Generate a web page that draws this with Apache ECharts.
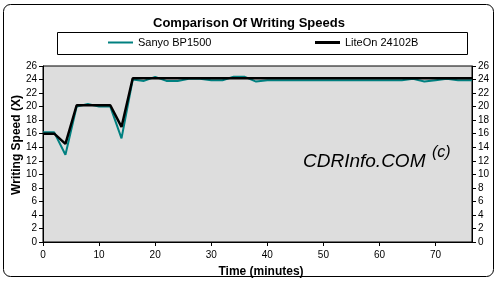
<!DOCTYPE html>
<html><head><meta charset="utf-8">
<script src="https://cdn.jsdelivr.net/npm/echarts@6/dist/echarts.min.js"></script>
<style>html,body{margin:0;padding:0;background:#fff}#c{width:498px;height:289px}</style>
</head><body><div id="c"></div>
<script>
var titleText = 'Comparison Of Writing Speeds';
var xTitle = 'Time (minutes)';
var yTitle = 'Writing Speed (X)';
var seriesNames = ['Sanyo BP1500', 'LiteOn 24102B'];
var sanyoTime  = [0, 2, 4, 6, 8, 10, 12, 14, 16, 18, 20, 22, 24, 26, 28, 30, 32, 34, 36, 38, 40, 42, 44, 46, 48, 50, 52, 54, 56, 58, 60, 62, 64, 66, 68, 70, 72, 74, 76.5];
var sanyoSpeed = [16.2, 16.2, 12.9, 20.0, 20.4, 20.0, 20.0, 15.3, 24.0, 23.8, 24.4, 23.8, 23.8, 24.1, 24.1, 23.9, 23.9, 24.4, 24.4, 23.7, 23.9, 23.9, 23.9, 23.9, 23.9, 23.9, 23.9, 23.9, 23.9, 23.9, 23.9, 23.9, 23.9, 24.1, 23.7, 23.9, 24.1, 23.9, 23.9];
var liteonTime  = [0, 2, 4, 6, 12, 14, 16, 76.5];
var liteonSpeed = [16.0, 16.0, 14.5, 20.2, 20.2, 17.0, 24.2, 24.2];
var xMin = 0, xMax = 76.5, xStep = 10;
var yMin = 0, yMax = 26, yStep = 2;

function zip(a, b) { return a.map(function (v, i) { return [v, b[i]]; }); }

var chart = echarts.init(document.getElementById('c'), null, {renderer: 'canvas'});
var font = 'Arial, "Liberation Sans", sans-serif';
var yAxisBase = {
  type: 'value', min: yMin, max: yMax, interval: yStep,
  axisLine: {show: true, lineStyle: {color: '#000', width: 1}},
  axisTick: {show: true, length: 4, lineStyle: {color: '#000'}},
  axisLabel: {color: '#000', fontSize: 10, fontFamily: font, margin: 6},
  splitLine: {show: false}
};
chart.setOption({
  animation: false,
  backgroundColor: '#fff',
  title: {
    text: titleText, left: 148, top: 12,
    textStyle: {fontSize: 13, fontWeight: 'bold', color: '#000', fontFamily: font}
  },
  legend: [
    {data: [seriesNames[0]], left: 108, top: 37, padding: 0, itemWidth: 25, itemHeight: 2, icon: 'rect',
     textStyle: {fontSize: 11, color: '#000', fontFamily: font}, itemStyle: {color: '#008080'}},
    {data: [seriesNames[1]], left: 315, top: 37, padding: 0, itemWidth: 25, itemHeight: 3, icon: 'rect',
     textStyle: {fontSize: 11, color: '#000', fontFamily: font}, itemStyle: {color: '#000'}}
  ],
  grid: {left: 43, right: 26, top: 66, bottom: 47, show: true, backgroundColor: '#dddddd', borderColor: '#000', borderWidth: 1},
  xAxis: {
    type: 'value', min: xMin, max: xMax, interval: xStep,
    axisLine: {show: true, lineStyle: {color: '#000'}},
    axisTick: {show: true, length: 4, lineStyle: {color: '#000'}},
    axisLabel: {color: '#000', fontSize: 10, fontFamily: font, margin: 8, showMaxLabel: false},
    splitLine: {show: false}
  },
  yAxis: [
    Object.assign({}, yAxisBase, {position: 'left'}),
    Object.assign({}, yAxisBase, {position: 'right'})
  ],
  graphic: [
    {type: 'rect', shape: {x: 3.5, y: 4.5, width: 490, height: 272, r: 7}, style: {fill: 'none', stroke: '#000', lineWidth: 1}, z: -1},
    {type: 'rect', shape: {x: 57.5, y: 32.5, width: 410, height: 22}, style: {fill: 'none', stroke: '#000', lineWidth: 1}},
    {type: 'text', x: 261, y: 272, style: {text: xTitle, fontSize: 12, fontWeight: 'bold', fontFamily: font, fill: '#000', align: 'center', verticalAlign: 'middle'}},
    {type: 'text', x: 17, y: 145, rotation: Math.PI / 2, style: {text: yTitle, fontSize: 12, fontWeight: 'bold', fontFamily: font, fill: '#000', align: 'center', verticalAlign: 'middle'}},
    {type: 'text', x: 303, y: 171, z: 1, style: {text: 'CDRInfo.COM', fontSize: 19, fontStyle: 'italic', fontFamily: font, fill: '#000', align: 'left', verticalAlign: 'bottom'}},
    {type: 'text', x: 432, y: 145, z: 1, style: {text: '(c)', fontSize: 16, fontStyle: 'italic', fontFamily: font, fill: '#000', align: 'left', verticalAlign: 'top'}}
  ],
  series: [
    {name: seriesNames[0], type: 'line', data: zip(sanyoTime, sanyoSpeed), showSymbol: false, symbol: 'none',
     lineStyle: {color: '#008080', width: 2}, itemStyle: {color: '#008080'}, z: 2},
    {name: seriesNames[1], type: 'line', data: zip(liteonTime, liteonSpeed), showSymbol: false, symbol: 'none',
     lineStyle: {color: '#000', width: 2.5}, itemStyle: {color: '#000'}, z: 3}
  ]
});
</script></body></html>
